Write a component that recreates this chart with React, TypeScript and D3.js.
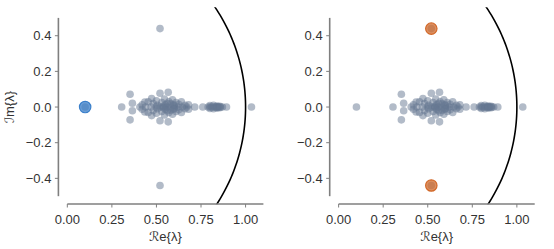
import React from "react";
import * as d3 from "d3";

const width = 554;
const height = 249;

const realEigs = [
  0.1, 0.305, 0.407, 0.44, 0.47, 0.5, 0.52, 0.54, 0.56, 0.58, 0.6, 0.62,
  0.645, 0.67, 0.715, 0.76, 0.79, 0.8, 0.81, 0.82, 0.83, 0.835, 0.84, 0.845,
  0.85, 0.86, 0.87, 0.893, 1.033,
];
const complexPairs = [
  [0.352, 0.072], [0.365, 0.021], [0.42, 0.012], [0.435, 0.028],
  [0.454, 0.03], [0.473, 0.048], [0.482, 0.02], [0.5, 0.035],
  [0.505, 0.01], [0.52, 0.077], [0.52, 0.44], [0.53, 0.025],
  [0.545, 0.045], [0.55, 0.012], [0.566, 0.083], [0.57, 0.03],
  [0.58, 0.018], [0.59, 0.04], [0.6, 0.008], [0.61, 0.025],
  [0.625, 0.015], [0.64, 0.03], [0.66, 0.01], [0.68, 0.012],
  [0.8, 0.008], [0.82, 0.01], [0.84, 0.006], [0.855, 0.004],
  [0.56, 0.02], [0.595, 0.012], [0.54, 0.005],
];

const leftHighlight = [[0.1, 0]];
const rightHighlight = [[0.52, 0.44], [0.52, -0.44]];

const xTicks = [0, 0.25, 0.5, 0.75, 1.0];
const yTicks = [-0.4, -0.2, 0, 0.2, 0.4];

const allEigs = [
  ...realEigs.map((r) => [r, 0]),
  ...complexPairs.flatMap(([r, i]) => [[r, i], [r, -i]]),
];

const x = d3.scaleLinear().domain([-0.05, 1.1]).range([58.4, 263.4]);
const y = d3.scaleLinear().domain([-0.545, 0.56]).range([204.2, 7.2]);

const font = "'Liberation Sans', Arial, sans-serif";
const axisColor = "#7f7f7f";
const textColor = "#333";

const circlePath = d3.line()(
  d3.range(0, 361).map((a) => {
    const t = (a * Math.PI) / 180;
    return [x(Math.cos(t)), y(Math.sin(t))];
  })
);

const Panel = ({ dx, id, highlight, hiColor, yLabel }) => (
  <g transform={`translate(${dx},0)`}>
    <defs>
      <clipPath id={id}>
        <rect x={x(-0.05)} y={y(0.56)} width={x(1.1) - x(-0.05)} height={y(-0.545) - y(0.56)} />
      </clipPath>
    </defs>
    <path d={circlePath} fill="none" stroke="#000" strokeWidth={1.6} clipPath={`url(#${id})`} />
    {allEigs.map(([r, i], k) => (
      <circle key={k} cx={x(r)} cy={y(i)} r={3.8} fill="#667792" fillOpacity={0.5} />
    ))}
    {highlight.map(([r, i], k) => (
      <circle key={"h" + k} cx={x(r)} cy={y(i)} r={5.7} fill={hiColor} fillOpacity={0.75}
        stroke={hiColor} strokeWidth={1.2} />
    ))}
    {/* y axis */}
    <line x1={x(-0.05)} x2={x(-0.05)} y1={y(-0.5)} y2={y(0.5)} stroke={axisColor} strokeWidth={1.6} />
    {yTicks.map((t) => (
      <g key={t}>
        <line x1={x(-0.05) - 3.5} x2={x(-0.05)} y1={y(t)} y2={y(t)} stroke={axisColor} strokeWidth={1} />
        <text x={x(-0.05) - 7} y={y(t)} dy="0.35em" textAnchor="end" fontSize={13}
          fontFamily={font} fill={textColor}>
          {d3.format(".1f")(t).replace("-", "\u2212")}
        </text>
      </g>
    ))}
    {/* x axis */}
    <line x1={x(0)} x2={x(1.1)} y1={204} y2={204} stroke={axisColor} strokeWidth={1.6} />
    {xTicks.map((t) => (
      <g key={t}>
        <line x1={x(t)} x2={x(t)} y1={204} y2={207.5} stroke={axisColor} strokeWidth={1} />
        <text x={x(t)} y={224.3} textAnchor="middle" fontSize={13} fontFamily={font} fill={textColor}>
          {d3.format(".2f")(t)}
        </text>
      </g>
    ))}
    <text x={(x(0) + x(1.1)) / 2} y={240.5} textAnchor="middle" fontSize={13} fontFamily={font} fill={textColor}>
      <tspan fontFamily="'DejaVu Sans'" fontStyle="italic">{"\u211B"}</tspan>
      <tspan>{"e{λ}"}</tspan>
    </text>
    {yLabel && (
      <text transform={`translate(14,${y(0)}) rotate(-90)`} textAnchor="middle" fontSize={13}
        fontFamily={font} fill={textColor}>
        <tspan fontFamily="'DejaVu Sans'" fontStyle="italic">{"\u2110"}</tspan>
        <tspan>{"m{λ}"}</tspan>
      </text>
    )}
  </g>
);

export default function App() {
  return (
    <svg width={width} height={height} style={{ position: "absolute", left: 0, top: 0, background: "#fff" }}>
      <Panel dx={0} id="clipL" highlight={leftHighlight} hiColor="#3a7fca" yLabel />
      <Panel dx={271.3} id="clipR" highlight={rightHighlight} hiColor="#d2692a" yLabel={false} />
    </svg>
  );
}
